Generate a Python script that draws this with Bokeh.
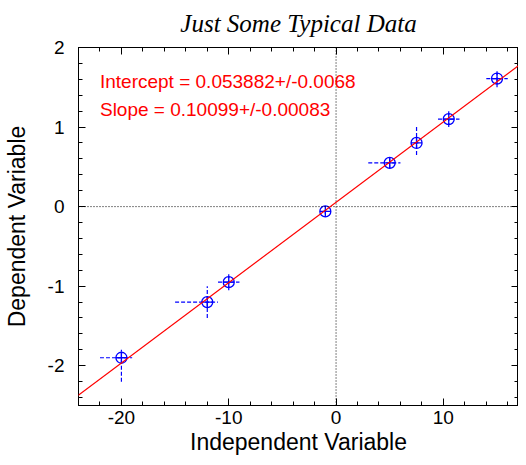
from bokeh.plotting import figure
from bokeh.models import (LinearAxis, SingleIntervalTicker, Range1d, Span, Slope,
                          Label, Title, ColumnDataSource, PrintfTickFormatter)
from bokeh.embed import file_html
from bokeh.resources import INLINE

# ---- data ----
x_vals = [-20, -12, -10, -1.0, 5.0, 7.5, 10.5, 15.0]
y_vals = [-1.90, -1.20, -0.95, -0.06, 0.55, 0.80, 1.10, 1.61]
x_low = [-22.0, -15.0, -11.0, -1.2, 3.0, 7.3, 9.5, 14.0]
x_high = [-19.0, -11.0, -9.0, -0.8, 6.0, 7.7, 11.5, 16.0]
y_low = [-2.20, -1.40, -1.05, -0.09, 0.48, 0.65, 1.00, 1.50]
y_high = [-1.80, -1.00, -0.85, -0.03, 0.62, 1.00, 1.20, 1.70]

intercept = 0.053882
intercept_err = 0.0068
slope = 0.10099
slope_err = 0.00083

title_text = "Just Some Typical Data"
x_label = "Independent Variable"
y_label = "Dependent Variable"

x_range = (-24, 17.0)
y_range = (-2.5, 2)

src = ColumnDataSource(dict(x=x_vals, y=y_vals, xl=x_low, xh=x_high,
                            yl=y_low, yh=y_high))

p = figure(width=518, height=457, output_backend="svg", toolbar_location=None,
           x_range=Range1d(*x_range), y_range=Range1d(*y_range),
           x_axis_type=None, y_axis_type=None,
           min_border_left=0, min_border_top=0, min_border_bottom=0,
           min_border_right=0)
p.grid.visible = False
p.outline_line_color = "black"
p.background_fill_color = "white"
p.border_fill_color = "white"

FONT = "Liberation Sans"

def make_axis(interval, label, show_labels, tick_standoff=10, label_standoff=8):
    ax = LinearAxis(ticker=SingleIntervalTicker(interval=interval, num_minor_ticks=5))
    ax.major_tick_in = 7
    ax.major_tick_out = 0
    ax.minor_tick_in = 4
    ax.minor_tick_out = 0
    ax.axis_line_color = "black"
    ax.major_tick_line_color = "black"
    ax.minor_tick_line_color = "black"
    if show_labels:
        ax.formatter = PrintfTickFormatter(format="%d")
        ax.major_label_text_font = FONT
        ax.major_label_text_font_size = "19px"
        ax.major_label_text_color = "black"
        ax.major_label_standoff = tick_standoff
        ax.axis_label = label
        ax.axis_label_text_font = FONT
        ax.axis_label_text_font_size = "23px"
        ax.axis_label_text_font_style = "normal"
        ax.axis_label_text_color = "black"
        ax.axis_label_standoff = label_standoff
    else:
        ax.major_label_text_font_size = "0px"
        ax.major_label_standoff = 0
        ax.major_label_text_alpha = 0
        ax.major_label_overrides = {v: "" for v in range(-30, 31)}
    return ax

p.add_layout(make_axis(10, x_label, True, 5, 2), "below")
p.add_layout(make_axis(1, y_label, True, 14, 15), "left")
p.add_layout(make_axis(10, None, False), "above")
p.add_layout(make_axis(1, None, False), "right")

p.title = Title(text=title_text, align="center", vertical_align="top",
                text_font="Liberation Serif", text_font_style="italic",
                text_font_size="25px", text_color="black", standoff=18)

# zero lines
p.add_layout(Span(location=0, dimension="width", line_color="black",
                  line_dash="1 2", line_width=1))
p.add_layout(Span(location=0, dimension="height", line_color="black",
                  line_dash="1 2", line_width=1))

# fit line
p.add_layout(Slope(gradient=slope, y_intercept=intercept, line_color="red",
                   line_width=1.2))

# error bars
p.segment(x0="xl", y0="y", x1="xh", y1="y", source=src, line_color="blue",
          line_dash="4 2", line_width=1.2)
p.segment(x0="x", y0="yl", x1="x", y1="yh", source=src, line_color="blue",
          line_dash="4 2", line_width=1.2)

p.scatter(x="x", y="y", source=src, marker="circle_cross", size=11,
          fill_color=None, line_color="blue", line_width=1.3)

p.add_layout(Label(x=-22, y=1.577, text=f"Intercept = {intercept}+/-{intercept_err}",
                   text_font=FONT, text_font_size="19px", text_color="red",
                   text_baseline="alphabetic"))
p.add_layout(Label(x=-22, y=1.217, text=f"Slope = {slope}+/-{slope_err}",
                   text_font=FONT, text_font_size="19px", text_color="red",
                   text_baseline="alphabetic"))

open("out.html", "w").write(file_html(p, INLINE))
